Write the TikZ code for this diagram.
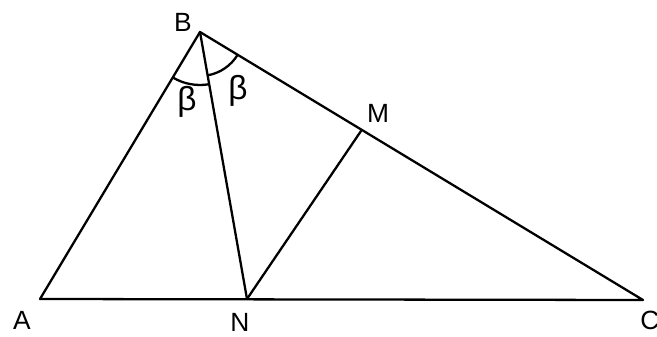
\documentclass[tikz,border=0pt]{standalone}
\usepackage{fontspec}
\setmainfont{Liberation Sans}
\usetikzlibrary{angles}

\begin{document}
\begin{tikzpicture}[
    x=0.02cm,
    y=0.02cm,
    edge/.style={line width=1.3pt, line cap=round, line join=round},
    arcmark/.style={line width=1.3pt},
    vlabel/.style={font=\fontsize{15}{18}\selectfont, inner sep=0pt},
    anglabel/.style={font=\fontsize{19}{22}\selectfont, inner sep=0pt}
]
\useasboundingbox (0,0) rectangle (657,336);

% ============================================================
% PUNKTY
% ============================================================
\coordinate (A) at ( 40,  37);
\coordinate (B) at (200, 304);
\coordinate (C) at (643,  36);
\coordinate (N) at (247,  37);
\coordinate (M) at (361, 205);

% ============================================================
% BOKI I ODCINKI
% ============================================================
\draw[edge] (A) -- (B) -- (C) -- cycle;
\draw[edge] (B) -- (N);
\draw[edge] (N) -- (M);

% ============================================================
% KATY
% ============================================================
\pic[draw, arcmark, angle radius=1.06cm] {angle = A--B--N};
\pic[draw, arcmark, angle radius=0.88cm] {angle = N--B--C};

\node[anglabel] (beta1) at (187, 234) {β};
\node[anglabel] (beta2) at (238, 245) {β};

% ============================================================
% PODPISY
% ============================================================
\node[vlabel] (lA) at ( 22,  16) {A};
\node[vlabel] (lB) at (183, 314) {B};
\node[vlabel] (lC) at (650,  16) {C};
\node[vlabel] (lN) at (240,  14) {N};
\node[vlabel] (lM) at (378, 223) {M};

\end{tikzpicture}
\end{document}
